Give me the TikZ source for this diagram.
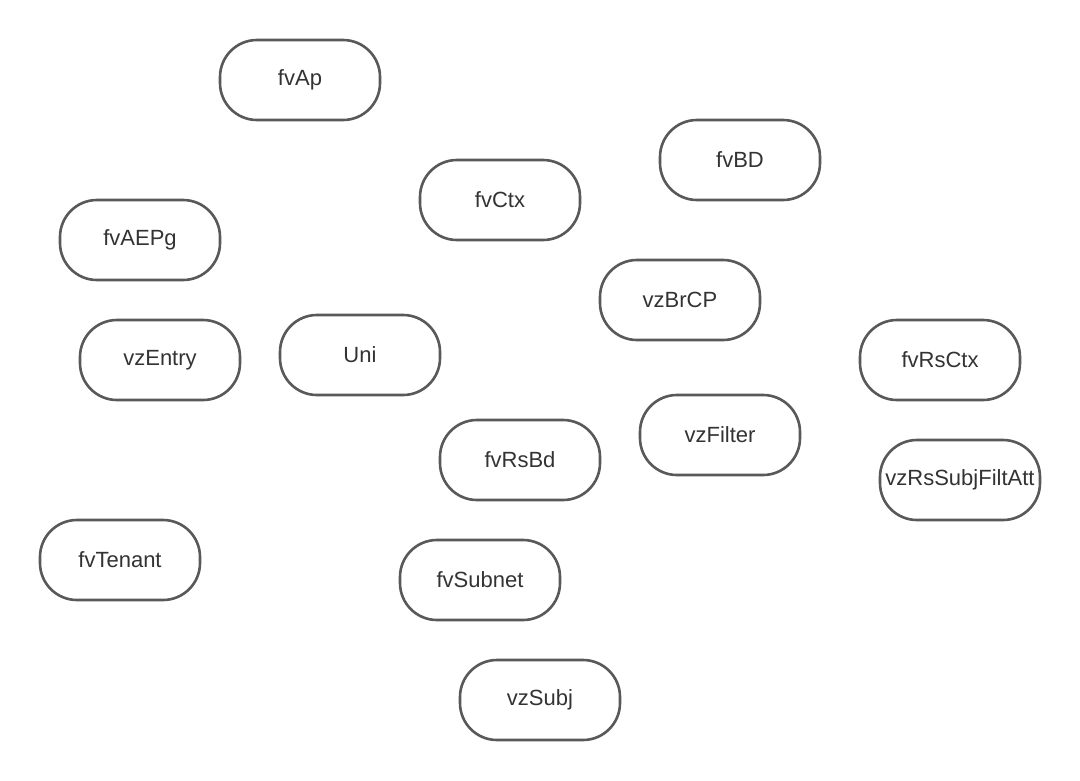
\documentclass[tikz,border=0pt]{standalone}
\usepackage{fontspec}
\setmainfont{Liberation Sans}
\definecolor{edge}{HTML}{595959}
\definecolor{txt}{HTML}{333333}
\begin{document}
\begin{tikzpicture}[x=1pt,y=-1pt,
  box/.style={draw=edge, line width=2.6pt, rounded corners=37pt, fill=white,
    minimum width=160pt, minimum height=80pt, inner sep=0pt, text=txt,
    font=\fontsize{22}{24}\selectfont}]
\useasboundingbox[fill=white] (0,0) rectangle (1080,780);
\node[box] (fvAp) at (300,80) {fvAp};
\node[box] (fvBD) at (740,160) {fvBD};
\node[box] (fvCtx) at (500,200) {fvCtx};
\node[box] (fvAEPg) at (140,240) {fvAEPg};
\node[box] (vzBrCP) at (680,300) {vzBrCP};
\node[box] (vzEntry) at (160,360) {vzEntry};
\node[box] (Uni) at (360,355) {Uni};
\node[box] (fvRsCtx) at (940,360) {fvRsCtx};
\node[box] (vzFilter) at (720,435) {vzFilter};
\node[box] (fvRsBd) at (520,460) {fvRsBd};
\node[box] (vzRsSubjFiltAtt) at (960,480) {vzRsSubjFiltAtt};
\node[box] (fvTenant) at (120,560) {fvTenant};
\node[box] (fvSubnet) at (480,580) {fvSubnet};
\node[box] (vzSubj) at (540,700) {vzSubj};
\end{tikzpicture}
\end{document}
